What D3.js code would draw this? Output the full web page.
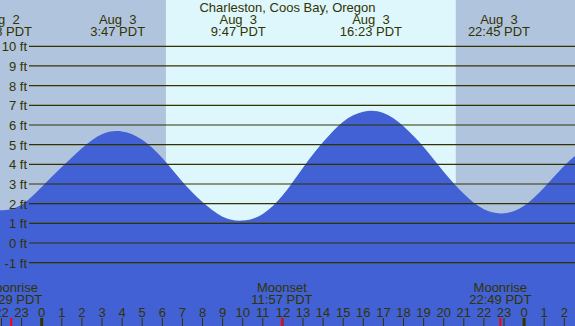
<!DOCTYPE html>
<html>
<head>
<meta charset="utf-8">
<script src="https://d3js.org/d3.v7.min.js"></script>
<style>
    body { margin: 0; padding: 0; background: #ffffff; }
    svg { display: block; }
    text { font-family: "Liberation Sans", Arial, sans-serif; font-size: 13px; fill: #333300; }
</style>
</head>
<body>
<div id="chart"></div>
<script>
//DATA

//hours counted from Aug 3 00:00 PDT, heights in feet
var tideHours = [-3, -2, -1, 0, 1, 2, 3, 4, 5, 6, 7, 8, 9, 10, 11, 12, 13, 14, 15, 16, 17, 18, 19, 20, 21, 22, 23, 24, 25, 26, 27];
var tideHeights = [1.78, 1.66, 1.95, 2.85, 3.86, 4.82, 5.53, 5.67, 5.25, 4.32, 3.12, 2.08, 1.34, 1.14, 1.48, 2.44, 3.83, 5.13, 6.17, 6.67, 6.61, 5.94, 4.88, 3.62, 2.5, 1.71, 1.51, 1.9, 2.82, 3.93, 4.8];

//high and low water
var extremeHours = [-2.03, 3.78, 9.78, 16.38, 22.75];
var extremeDates = ["Aug  2", "Aug  3", "Aug  3", "Aug  3", "Aug  3"];
var extremeTimes = ["21:58 PDT", "3:47 PDT", "9:47 PDT", "16:23 PDT", "22:45 PDT"];

//moon events
var moonHours = [-1.517, 11.95, 22.817];
var moonNames = ["Moonrise", "Moonset", "Moonrise"];
var moonTimes = ["22:29 PDT", "11:57 PDT", "22:49 PDT"];

//night spans (sunset -> sunrise)
var nightStarts = [-3, 20.6];
var nightEnds = [6.18, 27];

var gridLevels = [-1, 0, 1, 2, 3, 4, 5, 6, 7, 8, 9, 10];
var tickHours = d3.range(-2, 27);

var title = "Charleston, Coos Bay, Oregon";

//LAYOUT

var width = 575, height = 326;
var dayColor = "#ddf7fd", nightColor = "#b0c4de", waterColor = "#4161d4", inkColor = "#333300";

var x = d3.scaleLinear().domain([0, 24]).range([41.7, 524.1]);
var y = d3.scaleLinear().domain([0, 10]).range([243, 46.3]);

var svg = d3.select("#chart").append("svg")
    .attr("width", width)
    .attr("height", height);

//GRAPHICAL FUNCTIONS

//day sky and night shading
function drawSky() {
    svg.append("rect")
        .attr("width", width)
        .attr("height", height)
        .attr("fill", dayColor);

    svg.append("g")
        .selectAll("rect")
        .data(nightStarts)
        .enter().append("rect")
        .attr("x", function(d) { return x(d); })
        .attr("y", 0)
        .attr("width", function(d, i) { return x(nightEnds[i]) - x(d); })
        .attr("height", height)
        .attr("fill", nightColor);
}

//water area under the tide curve
function drawTide() {
    var area = d3.area()
        .x(function(d) { return x(d); })
        .y0(height)
        .y1(function(d, i) { return y(tideHeights[i]); })
        .curve(d3.curveNatural);

    svg.append("path")
        .datum(tideHours)
        .attr("d", area)
        .attr("fill", waterColor);
}

//horizontal foot lines with labels
function drawGrid() {
    var g = svg.append("g");
    g.selectAll("line")
        .data(gridLevels)
        .enter().append("line")
        .attr("x1", 29)
        .attr("x2", width)
        .attr("y1", function(d) { return y(d); })
        .attr("y2", function(d) { return y(d); })
        .attr("stroke", inkColor)
        .attr("stroke-width", 1.2);

    g.selectAll("text")
        .data(gridLevels)
        .enter().append("text")
        .attr("x", 27)
        .attr("y", function(d) { return y(d) + 5; })
        .attr("text-anchor", "end")
        .text(function(d) { return d + " ft"; });
}

//title and high/low labels on top
function drawTopLabels() {
    svg.append("text")
        .attr("x", width / 2)
        .attr("y", 12)
        .attr("text-anchor", "middle")
        .text(title);

    var g = svg.append("g").attr("text-anchor", "middle");
    g.selectAll("text.date")
        .data(extremeHours)
        .enter().append("text")
        .attr("class", "date")
        .attr("x", function(d) { return x(d); })
        .attr("y", 24)
        .style("white-space", "pre")
        .text(function(d, i) { return extremeDates[i]; });

    g.selectAll("text.time")
        .data(extremeHours)
        .enter().append("text")
        .attr("class", "time")
        .attr("x", function(d) { return x(d); })
        .attr("y", 36)
        .text(function(d, i) { return extremeTimes[i]; });
}

//hour axis and moon events at the bottom
function drawBottom() {
    var g = svg.append("g");

    g.selectAll("line.hour")
        .data(tickHours)
        .enter().append("line")
        .attr("class", "hour")
        .attr("x1", function(d) { return x(d); })
        .attr("x2", function(d) { return x(d); })
        .attr("y1", 318)
        .attr("y2", height)
        .attr("stroke", inkColor)
        .attr("stroke-width", function(d) { return d % 24 === 0 ? 3 : 1; });

    g.selectAll("text.hour")
        .data(tickHours)
        .enter().append("text")
        .attr("class", "hour")
        .attr("x", function(d) { return x(d); })
        .attr("y", 316.5)
        .attr("text-anchor", "middle")
        .text(function(d) { return ((d % 24) + 24) % 24; });

    g.selectAll("line.moon")
        .data(moonHours)
        .enter().append("line")
        .attr("class", "moon")
        .attr("x1", function(d) { return x(d); })
        .attr("x2", function(d) { return x(d); })
        .attr("y1", 318)
        .attr("y2", height)
        .attr("stroke", "#ff0000")
        .attr("stroke-width", 2);

    g.selectAll("text.moonName")
        .data(moonHours)
        .enter().append("text")
        .attr("class", "moonName")
        .attr("x", function(d) { return x(d); })
        .attr("y", 292)
        .attr("text-anchor", "middle")
        .text(function(d, i) { return moonNames[i]; });

    g.selectAll("text.moonTime")
        .data(moonHours)
        .enter().append("text")
        .attr("class", "moonTime")
        .attr("x", function(d) { return x(d); })
        .attr("y", 304)
        .attr("text-anchor", "middle")
        .text(function(d, i) { return moonTimes[i]; });
}

drawSky();
drawTide();
drawGrid();
drawTopLabels();
drawBottom();
</script>
</body>
</html>
